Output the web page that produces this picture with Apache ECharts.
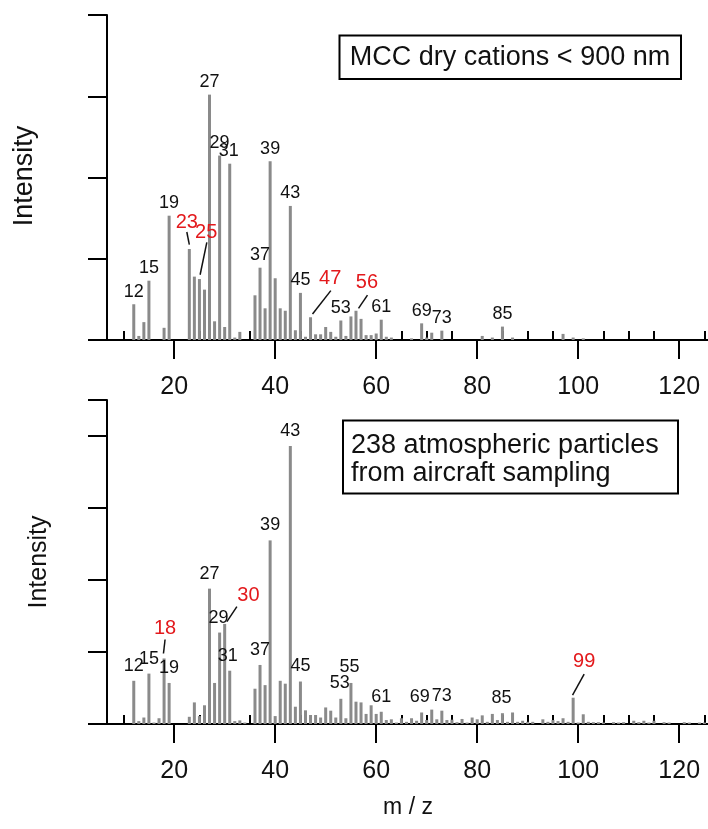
<!DOCTYPE html>
<html><head><meta charset="utf-8">
<script src="https://cdn.jsdelivr.net/npm/echarts@6/dist/echarts.min.js"></script>
<style>html,body{margin:0;padding:0;background:#fff}#c{width:708px;height:829px}</style>
</head><body><div id="c"></div>
<script>
// ---------- data ----------
const topMz  = [12,13,14,15,18,19,23,24,25,26,27,28,29,30,31,32,33,36,37,38,39,40,41,42,43,44,45,46,47,48,49,50,51,52,53,54,55,56,57,58,59,60,61,62,63,67,69,70,71,73,81,83,85,87,97,99,101];
const topVal = [4.4,0.5,2.2,7.3,1.5,15.3,11.2,7.8,7.5,6.2,30.2,2.3,22.7,1.6,21.7,0.3,1.0,5.5,8.9,3.9,22.0,7.6,3.9,3.6,16.5,1.2,5.8,0.4,2.8,0.7,0.7,1.6,1.0,0.4,2.4,0.5,2.9,3.6,2.6,0.6,0.6,0.8,2.5,0.4,0.3,0.2,2.05,0.3,0.9,1.15,0.5,0.3,1.65,0.3,0.75,0.3,0.2];

const botMz  = [12,13,14,15,16,17,18,19,23,24,25,26,27,28,29,30,31,32,33,34,36,37,38,39,40,41,42,43,44,45,46,47,48,49,50,51,52,53,54,55,56,57,58,59,60,61,62,63,64,65,66,67,68,69,70,71,72,73,74,75,76,77,78,79,80,81,82,83,84,85,86,87,88,89,90,91,93,94,95,96,97,98,99,100,101,102,103,104,105,107,108,109,111,112,113,114,115,117,118,121,122,124,125];
const botVal = [6.0,0.4,0.9,7.0,0.2,0.8,9.1,5.7,1.0,3.0,1.1,2.6,18.8,5.7,12.7,13.9,7.4,0.4,0.5,0.2,4.9,8.2,5.4,25.5,1.1,6.0,5.6,38.6,2.4,5.9,1.9,1.25,1.25,0.9,2.3,1.85,0.9,3.5,0.8,5.7,3.1,3.0,1.4,2.6,1.4,1.7,0.55,0.65,0.2,0.8,0.3,0.8,0.45,1.6,0.55,2.0,0.65,1.85,0.55,0.6,0.25,0.7,0.2,0.9,0.65,1.2,0.3,1.4,0.55,1.5,0.3,1.6,0.3,0.45,0.3,0.3,0.65,0.3,0.55,0.4,0.8,0.3,3.65,0.2,1.35,0.3,0.25,0.25,0.2,0.25,0.2,0.25,0.45,0.25,0.45,0.2,0.45,0.25,0.2,0.25,0.2,0.2,0.2];

const xMajorTicks = [20,40,60,80,100,120];
const xMinorTicks = [10,15,25,30,35,45,50,55,65,70,75,85,90,95,105,110,115,125];

const topBlackLabels = [12,15,19,27,29,31,37,39,43,45,53,61,69,73,85];
const topRedLabels   = [23,25,47,56];
const botBlackLabels = [12,15,19,27,29,31,37,39,43,45,53,55,61,69,73,85];
const botRedLabels   = [18,30,99];

const topTitle = 'MCC dry cations < 900 nm';
const botTitle = ['238 atmospheric particles', 'from aircraft sampling'];

// ---------- layout / style ----------
const FONT = '"Liberation Sans", Arial, sans-serif';
const BAR_COLOR = '#8a8a8a';
const RED = '#e3191c';
const INK = '#111';

// label offsets relative to bar tip (px)
const topLabelOffset = {def: [0, -12.5], 31: [-1, -12.5]};
const botLabelOffset = {def: [0, -15], 29: [-1, -14.5], 31: [-2, -15], 53: [-1, -15.7], 55: [-1.5, -16], 69: [-2, -15.5], 85: [-1, -15.5]};
const topLeaders = {
  23: {t: [-2.5, -27], a: [-2.5, -17], b: [0, -4.4]},
  25: {t: [6.8, -47], a: [7.4, -36.6], b: [0.7, -4.3]},
  47: {t: [19.6, -39], a: [20.3, -26.6], b: [2, -3.3]},
  56: {t: [11, -28], a: [11.5, -15.7], b: [2.5, -2.4]}
};
const botLeaders = {
  18: {t: [1, -30], a: [1, -19], b: [-0.6, -5]},
  30: {t: [23.8, -28], a: [12.2, -17.3], b: [2.2, -2.3]},
  99: {t: [11, -36.7], a: [11, -23.7], b: [-0.6, -2.7]}
};

function pairs(mz, val) { return mz.map((m, i) => [m, val[i]]); }

function blackLabelSeries(xi, yi, list, mz, val, offs) {
  return {
    type: 'custom', xAxisIndex: xi, yAxisIndex: yi, clip: false, silent: true, z: 5,
    data: list.map(m => [m, val[mz.indexOf(m)]]),
    renderItem(params, api) {
      const m = api.value(0), p = api.coord([m, api.value(1)]);
      const o = offs[m] || offs.def;
      return {type: 'text', x: p[0] + o[0], y: p[1] + o[1],
        style: {text: String(m), fill: INK, font: '18px ' + FONT, align: 'center', verticalAlign: 'middle'}};
    }
  };
}
function redLabelSeries(xi, yi, list, mz, val, leaders) {
  return {
    type: 'custom', xAxisIndex: xi, yAxisIndex: yi, clip: false, silent: true, z: 5,
    data: list.map(m => [m, val[mz.indexOf(m)]]),
    renderItem(params, api) {
      const m = api.value(0), p = api.coord([m, api.value(1)]);
      const L = leaders[m];
      return {type: 'group', children: [
        {type: 'line', shape: {x1: p[0] + L.a[0], y1: p[1] + L.a[1], x2: p[0] + L.b[0], y2: p[1] + L.b[1]},
         style: {stroke: INK, lineWidth: 1.5}},
        {type: 'text', x: p[0] + L.t[0], y: p[1] + L.t[1],
         style: {text: String(m), fill: RED, font: '20px ' + FONT, align: 'center', verticalAlign: 'middle'}}
      ]};
    }
  };
}

function majorX(grid) {
  return {type: 'value', gridIndex: grid, min: 6.7, max: 125.7,
    axisLine: {show: true, onZero: false, lineStyle: {color: '#000', width: 2}},
    axisTick: {show: true, customValues: xMajorTicks, length: 19, lineStyle: {color: '#000', width: 2}},
    axisLabel: {show: true, customValues: xMajorTicks, color: INK, fontSize: 25, fontFamily: FONT, margin: 35},
    splitLine: {show: false}};
}
function minorX(grid) {
  return {type: 'value', gridIndex: grid, min: 6.7, max: 125.7,
    axisLine: {show: false},
    axisTick: {show: true, customValues: xMinorTicks, length: 9, lineStyle: {color: '#000', width: 2}},
    axisLabel: {show: false}, splitLine: {show: false}};
}
function yAx(grid, max) {
  return {type: 'value', gridIndex: grid, min: 0, max: max, interval: 10,
    axisLine: {show: true, lineStyle: {color: '#000', width: 2}},
    axisTick: {show: true, length: 19, lineStyle: {color: '#000', width: 2}},
    axisLabel: {show: false}, splitLine: {show: false}};
}

const chart = echarts.init(document.getElementById('c'), null, {renderer: 'canvas'});
chart.setOption({
  animation: false,
  backgroundColor: '#fff',
  grid: [
    {left: 107, right: 0, top: 15, height: 325},
    {left: 107, right: 0, top: 400, height: 324}
  ],
  xAxis: [majorX(0), minorX(0), majorX(1), minorX(1)],
  yAxis: [yAx(0, 40), yAx(1, 45)],
  series: [
    {type: 'bar', xAxisIndex: 0, yAxisIndex: 0, data: pairs(topMz, topVal), barWidth: 3,
     itemStyle: {color: BAR_COLOR}, silent: true},
    {type: 'bar', xAxisIndex: 2, yAxisIndex: 1, data: pairs(botMz, botVal), barWidth: 3,
     itemStyle: {color: BAR_COLOR}, silent: true},
    blackLabelSeries(0, 0, topBlackLabels, topMz, topVal, topLabelOffset),
    redLabelSeries(0, 0, topRedLabels, topMz, topVal, topLeaders),
    blackLabelSeries(2, 1, botBlackLabels, botMz, botVal, botLabelOffset),
    redLabelSeries(2, 1, botRedLabels, botMz, botVal, botLeaders)
  ],
  graphic: [
    {type: 'rect', shape: {x: 339.5, y: 35.5, width: 341.5, height: 43.5}, style: {fill: '#fff', stroke: '#000', lineWidth: 2}},
    {type: 'text', x: 510, y: 58, style: {text: topTitle, font: '27px ' + FONT, fill: INK, align: 'center', verticalAlign: 'middle'}},
    {type: 'rect', shape: {x: 343, y: 420.5, width: 335, height: 73}, style: {fill: '#fff', stroke: '#000', lineWidth: 2}},
    {type: 'text', x: 351, y: 446, style: {text: botTitle[0], font: '27px ' + FONT, fill: INK, align: 'left', verticalAlign: 'middle'}},
    {type: 'text', x: 351, y: 474, style: {text: botTitle[1], font: '27px ' + FONT, fill: INK, align: 'left', verticalAlign: 'middle'}},
    {type: 'text', x: 25, y: 176, rotation: Math.PI / 2, style: {text: 'Intensity', font: '27px ' + FONT, fill: INK, align: 'center', verticalAlign: 'middle'}},
    {type: 'text', x: 39, y: 562, rotation: Math.PI / 2, style: {text: 'Intensity', font: '25px ' + FONT, fill: INK, align: 'center', verticalAlign: 'middle'}},
    {type: 'text', x: 408, y: 808, style: {text: 'm / z', font: '23px ' + FONT, fill: INK, align: 'center', verticalAlign: 'middle'}}
  ]
});
</script>
</body></html>
